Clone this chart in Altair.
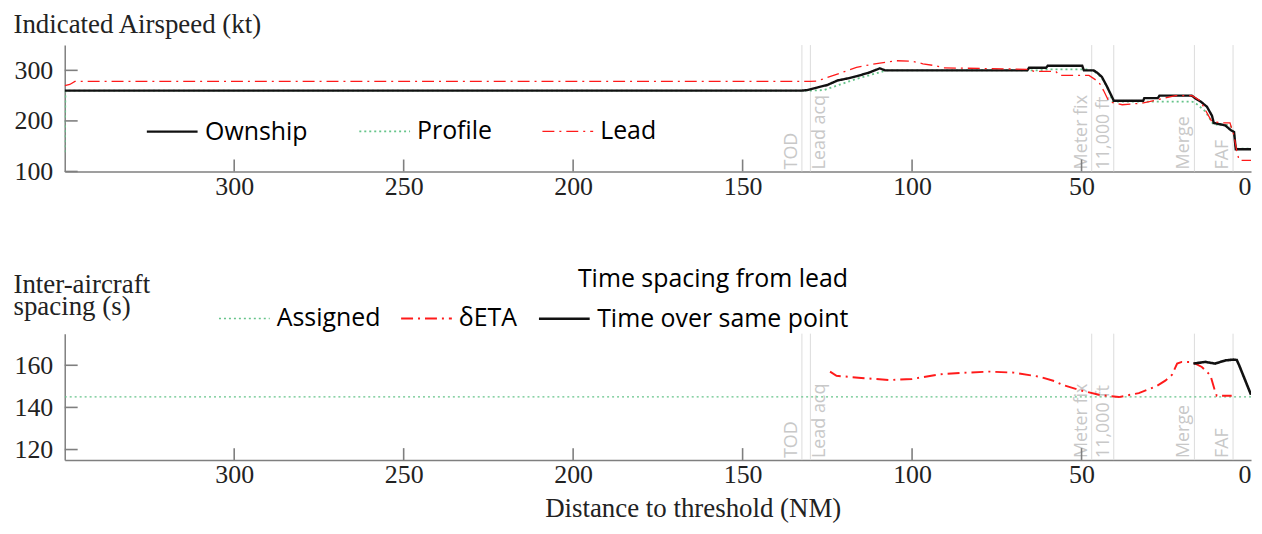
import altair as alt
import pandas as pd

# ---------------- data ----------------
x_ticks = [0, 50, 100, 150, 200, 250, 300]
ias_ticks = [100, 200, 300]
sp_ticks = [120, 140, 160]

event_labels = ["TOD", "Lead acq", "Meter fix", "11,000 ft", "Merge", "FAF"]
event_nm = [132.5, 130.0, 47.0, 40.5, 16.7, 5.3]

ias_series = ["Ownship", "Profile", "Lead"]
own_nm = [350, 132.5, 131, 128, 125, 122, 119, 116, 112.5, 109.5, 108, 66, 65.5, 60.5, 60, 49.8, 49.3,
          46.5, 45.5, 44, 42.5, 41.2, 40.5, 31.8, 31.5, 27.5, 27, 17.5, 16.5, 14.8, 13, 11.5, 11, 7.6, 6,
          5, 4.5, 0]
own_kt = [260, 260, 261, 266, 271, 280, 284, 289, 296, 304, 300, 300, 305, 305, 309, 309, 300,
          300, 296, 287, 268, 250, 240, 240, 245, 245, 250, 250, 245, 238, 228, 210, 196, 191, 182,
          178, 144, 144]
prof_nm = [350, 349.8, 130, 126, 116.5, 107.5, 62.5, 60, 48, 46, 44, 42, 40.8, 17.5, 16.5, 13.5,
           11.1, 6.2, 5, 4.5, 0]
prof_kt = [138, 260, 260, 261, 283, 300, 300, 302, 302, 297, 285, 262, 238, 238, 236, 219,
           193, 192, 175, 145, 145]
lead_nm = [350, 348.5, 347, 130, 128, 126.2, 121, 116.4, 110, 104.6, 100, 96.8, 93, 90.9, 65.5, 64,
           57.6, 56.5, 47.8, 44.9, 43.5, 41.9, 38, 32.1, 26.2, 22.3, 17.4, 15, 11.6, 8.2, 6.2, 5,
           4.2, 3.5, 0]
lead_kt = [270, 272, 278, 278, 279, 283, 295, 306, 314, 319, 318, 313, 309, 305, 302, 298,
           298, 290, 290, 277, 260, 238, 232, 235, 244, 250, 250, 240, 199, 196, 196, 170,
           140, 122, 122]

sp_series = ["Assigned", "δETA", "Time over same point"]
assigned_nm = [350, 0]
assigned_s = [145, 145]
deta_nm = [124.2, 122.3, 115, 106.6, 100, 91.9, 84, 77.2, 70, 62.5, 58, 55.6, 50.8, 44.9, 39, 33.1,
           28, 25.3, 23.3, 21.8, 20.4, 17.4, 14.5, 12, 10.6, 10.1, 5.7]
deta_s = [157, 155, 154, 153, 153.5, 155.7, 156.5, 157, 156.5, 154.6, 152.5, 150.7, 148.3, 146,
          144.9, 146.8, 150, 152.7, 155.5, 160.8, 161.6, 161.6, 159.2, 155.3, 147.6, 145.5, 145.5]
tosp_nm = [17, 13.5, 10.6, 7.6, 5.2, 4.2, 3.5, 0]
tosp_s = [160.8, 161.6, 160.8, 162.3, 162.7, 162.5, 160, 146]

# ---------------- styling ----------------
W, H = 1192, 127
SERIF = "Liberation Serif"
SANS = "Open Sans"
AX = "#7f7f7f"
TXT = "#222222"
TITLE_FS = 27

ias_colors = ["#111111", "#66c48a", "#ff1a1a"]
ias_dashes = [[1, 0], [2, 3], [12, 5, 2, 5]]
ias_widths = [2.4, 1.3, 2.6]
sp_colors = ["#66c48a", "#ff1a1a", "#111111"]
sp_dashes = [[2, 3], [12, 5, 2, 5], [1, 0]]
sp_widths = [1.3, 2.6, 2.4]


def frame(name, xs, ys):
    return pd.DataFrame({"nm": xs, "val": ys, "series": name, "idx": list(range(len(xs)))})


x_scale = alt.Scale(domain=[350, 0], nice=False, zero=False)


def make_x_axis(title):
    kw = dict(orient="bottom", values=x_ticks, ticks=False, tickSize=0, grid=False, domainColor=AX,
              domainWidth=1.5, labelFont=SERIF, labelFontSize=26, labelColor=TXT, labelPadding=2,
              labelFlush=True)
    if title:
        kw.update(title=title, titleFont=SERIF, titleFontSize=TITLE_FS, titleFontWeight="normal",
                  titleColor=TXT, titlePadding=8, titleX=631)
    else:
        kw.update(title=None)
    return alt.Axis(**kw)


def make_y_axis(ticks, title, title_y):
    return alt.Axis(orient="left", values=ticks, ticks=False, tickSize=0, grid=False, domainColor=AX,
                    domainWidth=1.5, labelFont=SERIF, labelFontSize=26, labelColor=TXT,
                    labelPadding=12, title=title, titleAngle=0, titleAlign="left",
                    titleBaseline="alphabetic", titleX=-52, titleY=title_y,
                    titleFont=SERIF, titleFontSize=TITLE_FS, titleFontWeight="normal",
                    titleColor=TXT, titleLineHeight=22)


ev_df = pd.DataFrame({"nm": event_nm, "label": event_labels})


def panel(df, series, colors, dashes, widths, legend, ydomain, yticks, x_axis, y_axis):
    x_plain = alt.X("nm:Q", scale=x_scale, axis=None)
    ysc = alt.Scale(domain=ydomain, nice=False, zero=False)
    ev_rule = alt.Chart(ev_df).mark_rule(color="#dcdcdc", strokeWidth=1).encode(x=x_plain)
    ev_text_l = alt.Chart(ev_df).transform_filter(alt.datum.label != "Lead acq").mark_text(
        angle=270, align="left", baseline="bottom", dx=2, dy=-1, font=SANS, fontSize=18,
        color="#c8c8c8").encode(x=x_plain, y=alt.value(H), text="label:N")
    ev_text_r = alt.Chart(ev_df).transform_filter(alt.datum.label == "Lead acq").mark_text(
        angle=270, align="left", baseline="top", dx=2, dy=1, font=SANS, fontSize=18,
        color="#c8c8c8").encode(x=x_plain, y=alt.value(H), text="label:N")
    lines = alt.Chart(df).mark_line(clip=True).encode(
        x=alt.X("nm:Q", scale=x_scale, axis=x_axis),
        y=alt.Y("val:Q", scale=ysc, axis=y_axis),
        color=alt.Color("series:N", scale=alt.Scale(domain=series, range=colors), legend=legend),
        strokeDash=alt.StrokeDash("series:N", scale=alt.Scale(domain=series, range=dashes),
                                  legend=legend),
        strokeWidth=alt.StrokeWidth("series:N", scale=alt.Scale(domain=series, range=widths),
                                    legend=legend),
        order="idx:Q",
    )
    # inward-pointing tick marks at the tick values, placed through the scales
    xt = alt.Chart(pd.DataFrame({"t": x_ticks[1:]})).mark_rule(color=AX, strokeWidth=1.6).encode(
        x=alt.X("t:Q", scale=x_scale, axis=None), y=alt.value(H - 12), y2=alt.value(H))
    yt = alt.Chart(pd.DataFrame({"t": yticks})).mark_rule(color=AX, strokeWidth=1.6).encode(
        y=alt.Y("t:Q", scale=ysc, axis=None), x=alt.value(0), x2=alt.value(13))
    return alt.layer(ev_rule, ev_text_l, ev_text_r, lines, xt, yt).resolve_axis(
        x="independent", y="independent").properties(width=W, height=H)


leg_common = dict(symbolType="stroke", symbolSize=2600, labelFont=SANS, labelFontSize=25,
                  labelColor="black", labelOffset=6, labelLimit=400, padding=0, orient="none",
                  direction="horizontal")

# ---------------- top panel ----------------
top_df = pd.concat([frame("Profile", prof_nm, prof_kt), frame("Ownship", own_nm, own_kt),
                    frame("Lead", lead_nm, lead_kt)])
top_leg = alt.Legend(title=None, legendX=81, legendY=60, columnPadding=47, **leg_common)
top = panel(top_df, ias_series, ias_colors, ias_dashes, ias_widths, top_leg, [100, 350], ias_ticks,
            make_x_axis(None), make_y_axis(ias_ticks, "Indicated Airspeed (kt)", -13))

# ---------------- bottom panel ----------------
bot_df = pd.concat([frame("Assigned", assigned_nm, assigned_s), frame("δETA", deta_nm, deta_s),
                    frame("Time over same point", tosp_nm, tosp_s)])
bot_leg = alt.Legend(title="Time spacing from lead", titleFont=SANS, titleFontSize=25,
                     titleFontWeight="normal", titleColor="black", titleAnchor="end",
                     titleLimit=500, titlePadding=0, legendX=154, legendY=-67, columnPadding=16,
                     **leg_common)
bottom = panel(bot_df, sp_series, sp_colors, sp_dashes, sp_widths, bot_leg, [115, 175], sp_ticks,
               make_x_axis("Distance to threshold (NM)"),
               make_y_axis(sp_ticks, ["Inter-aircraft", "spacing (s)"], -41))

chart = alt.vconcat(top, bottom, spacing=66).resolve_scale(
    y="independent", color="independent", strokeDash="independent", strokeWidth="independent"
).resolve_legend(color="independent", strokeDash="independent", strokeWidth="independent").properties(
    padding={"left": 4, "top": 0, "right": 2, "bottom": 2}
).configure_view(stroke="transparent")

chart.save("out.html", embed_options={"renderer": "svg", "actions": False})
